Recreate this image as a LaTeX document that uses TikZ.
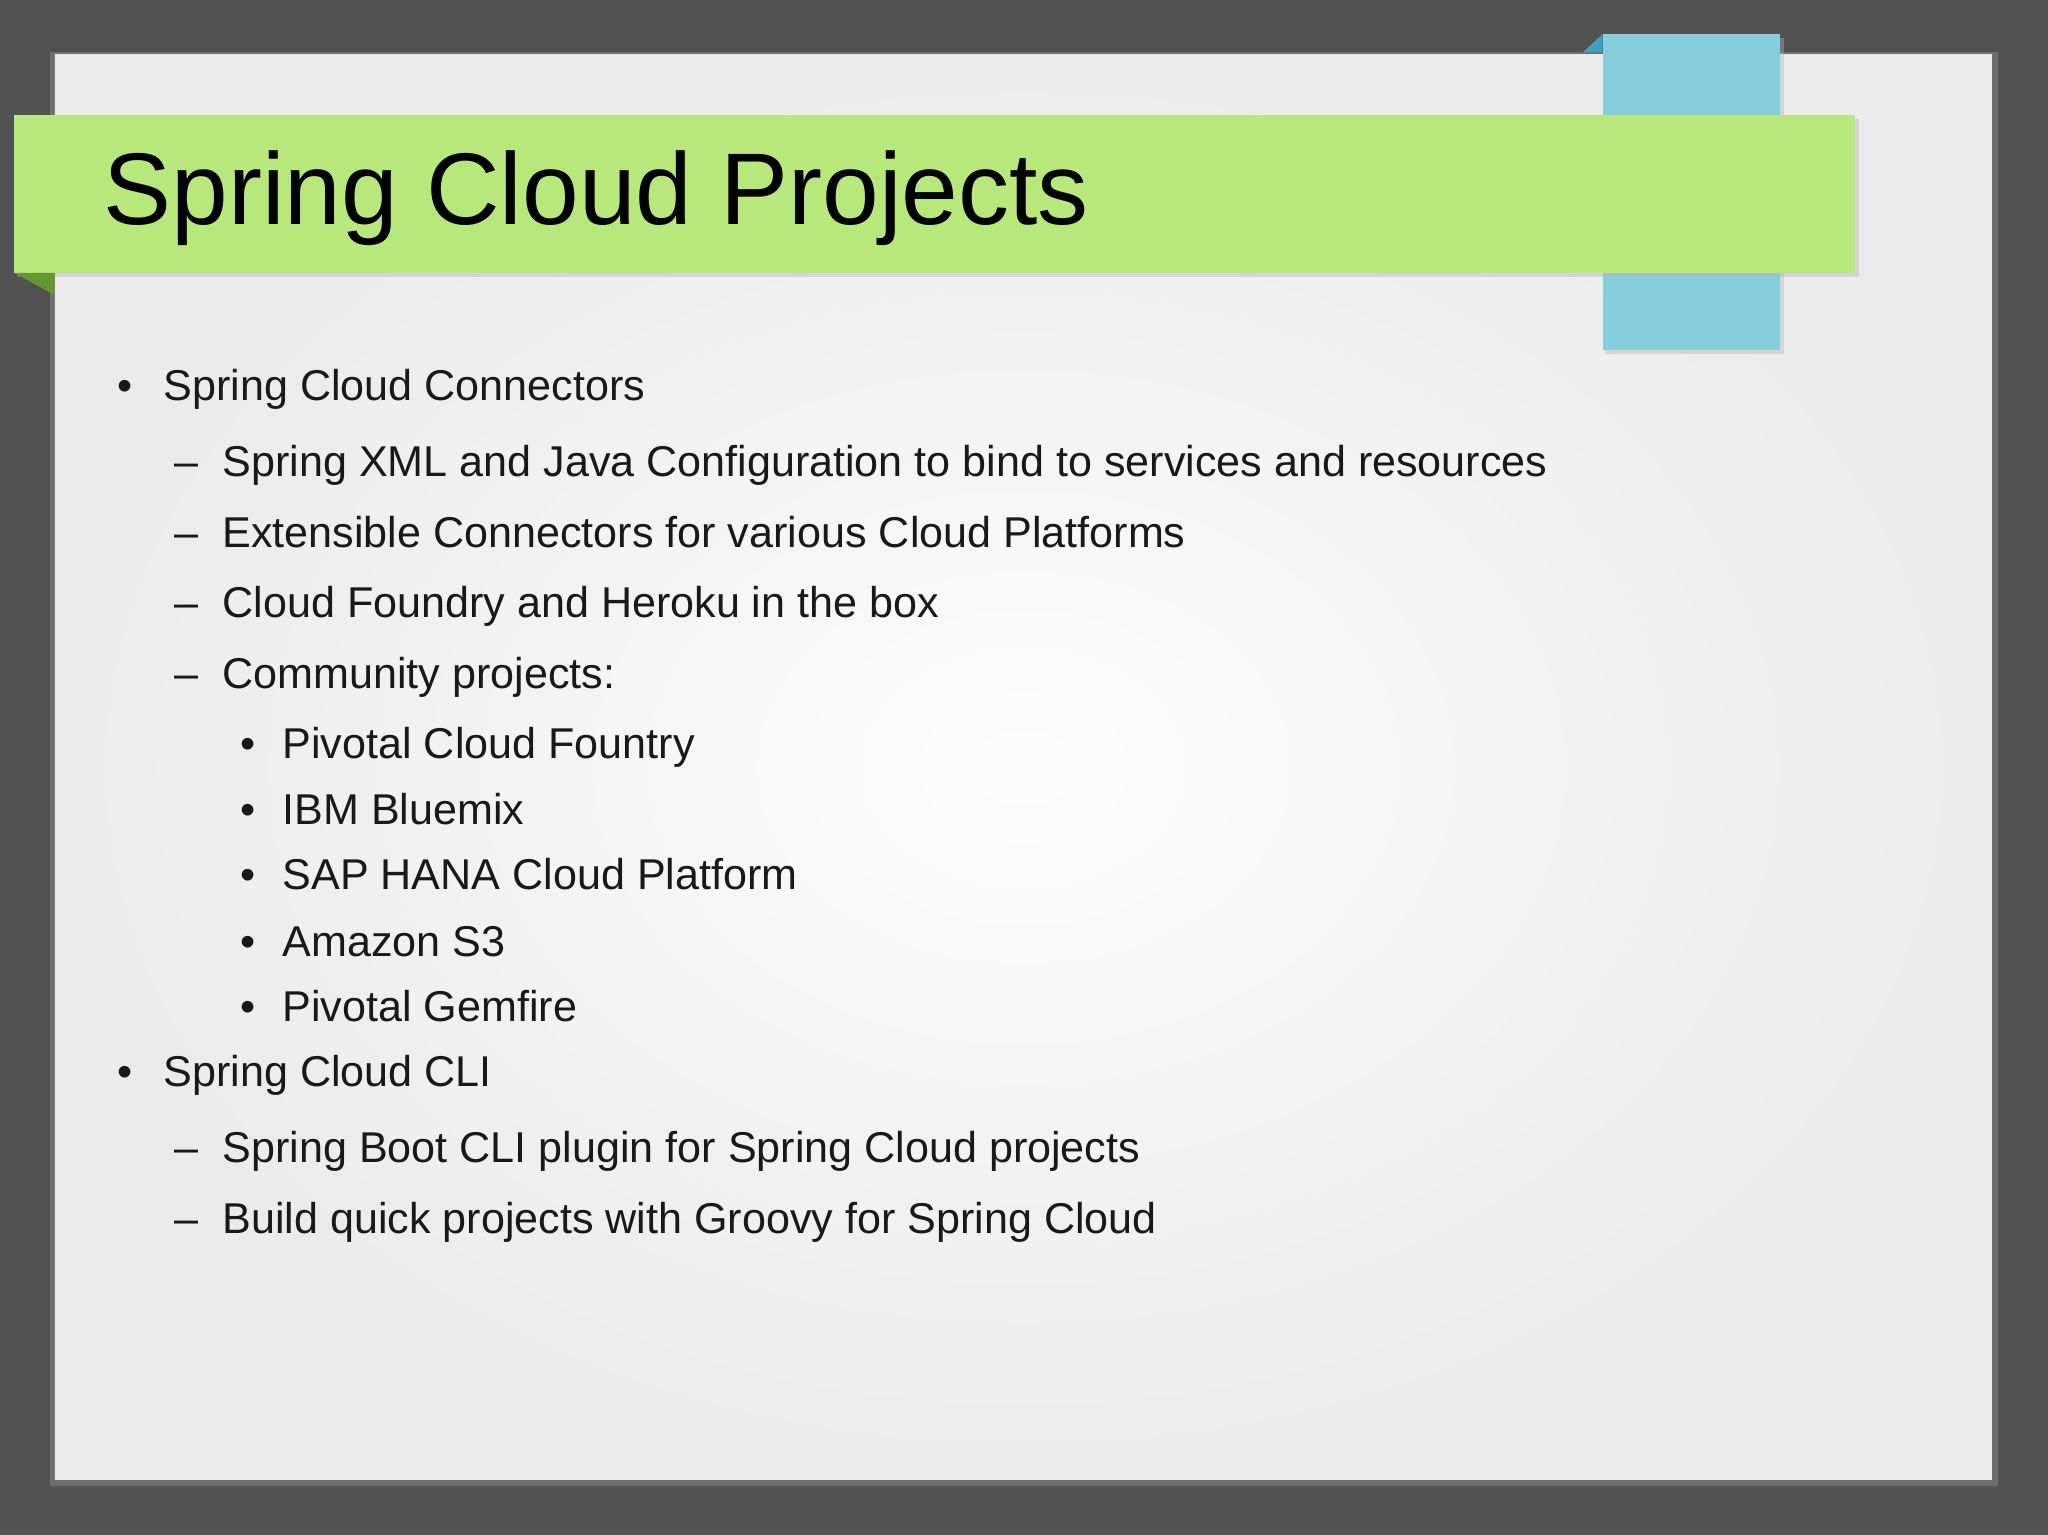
\documentclass[tikz,border=0pt]{standalone}
\usepackage{fontspec}
\setmainfont{Liberation Sans}
\definecolor{bannergreen}{RGB}{184,232,124}
\definecolor{foldgreen}{RGB}{100,150,50}
\definecolor{tabblue}{RGB}{133,207,220}
\definecolor{foldblue}{RGB}{60,160,190}
\begin{document}
\begin{tikzpicture}[x=0.5pt,y=-0.5pt,
  txt/.style={anchor=base west,inner sep=0pt,font=\fontsize{16.5pt}{19pt}\selectfont,text=black!90},
  bul/.style={anchor=base,inner sep=0pt,font=\fontsize{16.5pt}{19pt}\selectfont,text=black!90}]
\useasboundingbox (0,0) rectangle (1568,1175);
\fill[black!68] (0,0) rectangle (1568,1175);
\fill[black!45,opacity=0.5] (38,40) rectangle (1530,1138);
\shade[inner color=white!98!gray, outer color=black!8] (42,42) rectangle (1525,1133);
\fill[black!30,opacity=0.4] (1229,29) rectangle (1366,271);
\fill[foldblue] (1212,40) -- (1227,26) -- (1227,40) -- cycle;
\fill[tabblue] (1227,26) rectangle (1363,268);
\fill[black!30,opacity=0.4] (13,91) rectangle (1423,212);
\fill[bannergreen] (11,88) rectangle (1420,209);
\fill[foldgreen] (11,209) -- (42,209) -- (42,226) -- cycle;
\node[anchor=base west,inner sep=0pt,font=\fontsize{39pt}{44pt}\selectfont] (title) at (79,172) {Spring Cloud Projects};
\node[bul] (b1) at (96,307) {•};
\node[txt] (t1) at (125,307) {Spring Cloud Connectors};
\node[bul] (d1) at (143,365) {–};
\node[txt] (t2) at (170,365) {Spring XML and Java Configuration to bind to services and resources};
\node[bul] (d2) at (143,419) {–};
\node[txt] (t3) at (170,419) {Extensible Connectors for various Cloud Platforms};
\node[bul] (d3) at (143,473) {–};
\node[txt] (t4) at (170,473) {Cloud Foundry and Heroku in the box};
\node[bul] (d4) at (143,527) {–};
\node[txt] (t5) at (170,527) {Community projects:};
\node[bul] (c1) at (190,581) {•};
\node[txt] (t6) at (216,581) {Pivotal Cloud Fountry};
\node[bul] (c2) at (190,631) {•};
\node[txt] (t7) at (216,631) {IBM Bluemix};
\node[bul] (c3) at (190,681) {•};
\node[txt] (t8) at (216,681) {SAP HANA Cloud Platform};
\node[bul] (c4) at (190,732) {•};
\node[txt] (t9) at (216,732) {Amazon S3};
\node[bul] (c5) at (190,782) {•};
\node[txt] (t10) at (216,782) {Pivotal Gemfire};
\node[bul] (b2) at (96,832) {•};
\node[txt] (t11) at (125,832) {Spring Cloud CLI};
\node[bul] (d5) at (143,890) {–};
\node[txt] (t12) at (170,890) {Spring Boot CLI plugin for Spring Cloud projects};
\node[bul] (d6) at (143,944) {–};
\node[txt] (t13) at (170,944) {Build quick projects with Groovy for Spring Cloud};
\end{tikzpicture}
\end{document}
